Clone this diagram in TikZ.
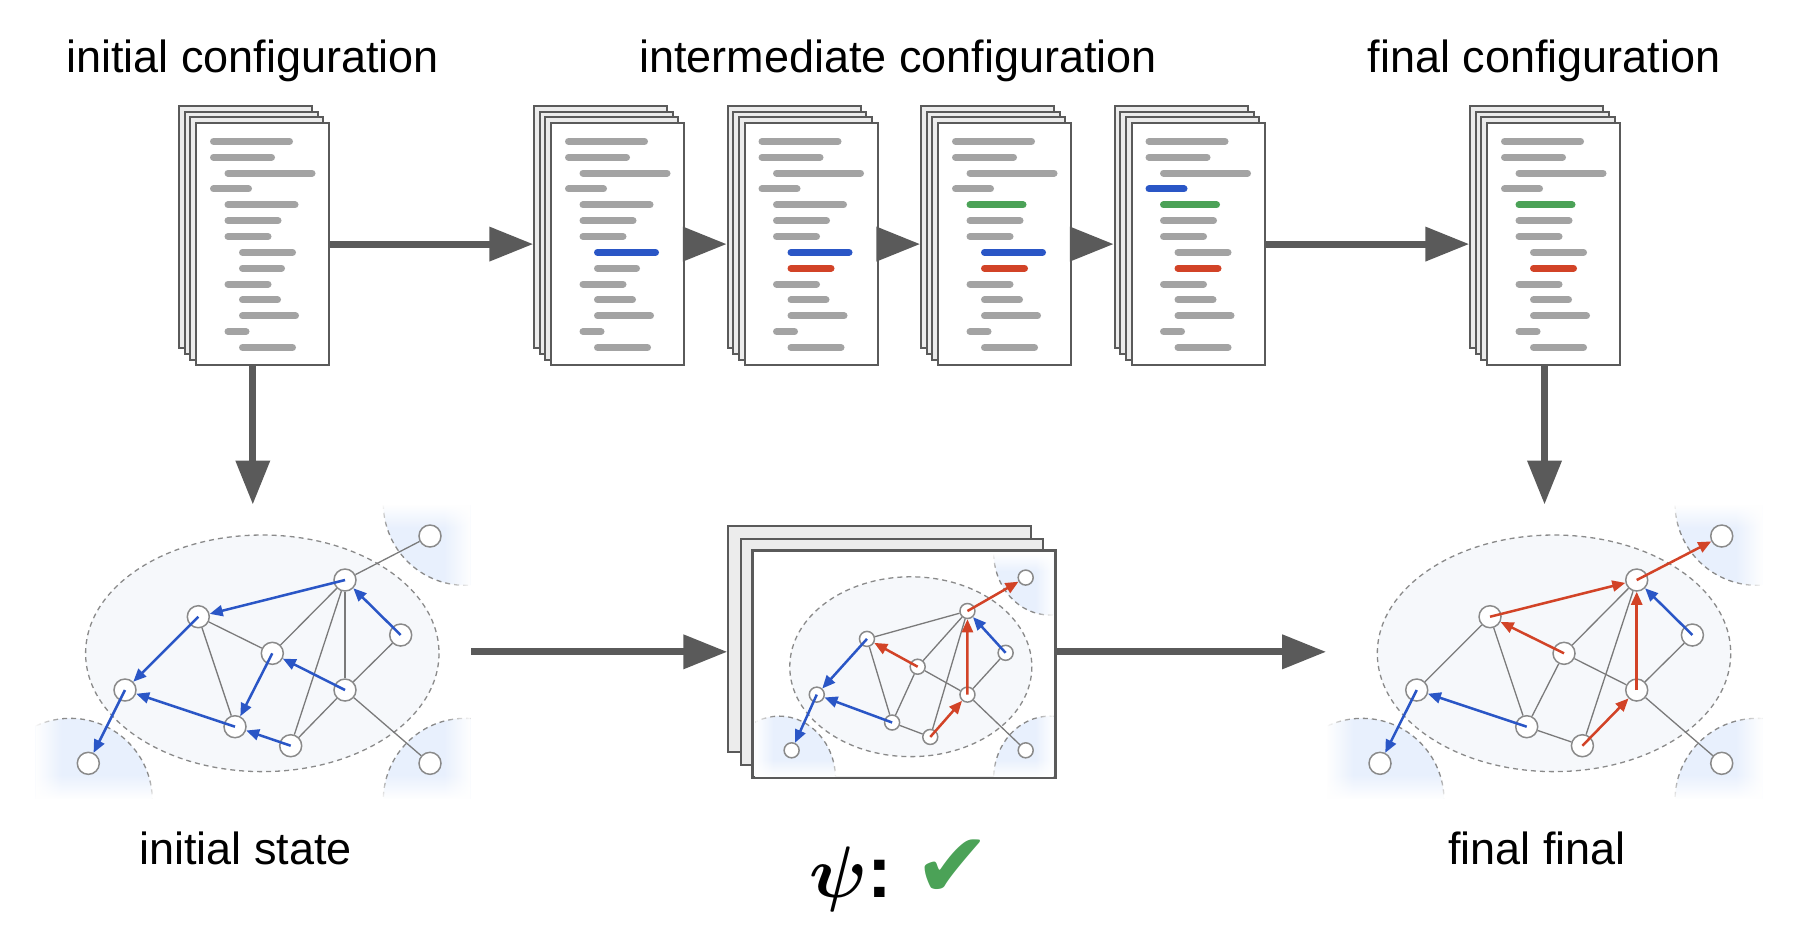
\documentclass[tikz,border=0pt]{standalone}
\usepackage{fontspec}
\setmainfont{Liberation Sans}
\newfontfamily\dejavu{DejaVu Sans}
\usepackage{bm}
\usetikzlibrary{arrows.meta,fadings}

\definecolor{pageedge}{HTML}{5A5A5A}
\definecolor{pageback}{HTML}{ECECEC}
\definecolor{linegray}{HTML}{A3A3A3}
\definecolor{arrowgray}{HTML}{5A5A5A}
\definecolor{cblue}{HTML}{2A56C6}
\definecolor{cred}{HTML}{D24327}
\definecolor{cgreen}{HTML}{4BA257}
\definecolor{ellfill}{HTML}{F6F8FB}
\definecolor{cornerblue}{HTML}{E8F0FD}
\definecolor{dashgray}{HTML}{8A8A8A}
\definecolor{edgegray}{HTML}{7A7A7A}

\tikzfading[name=fadeL, left color=transparent!0, right color=transparent!100]
\tikzfading[name=fadeR, left color=transparent!100, right color=transparent!0]
\tikzfading[name=fadeT, top color=transparent!0, bottom color=transparent!100]
\tikzfading[name=fadeB, top color=transparent!100, bottom color=transparent!0]

\tikzset{
  page/.style={draw=pageedge, line width=0.02cm, minimum width=1.33cm,
    minimum height=2.42cm, inner sep=0pt, anchor=north west},
  card/.style={draw=pageedge, line width=0.02cm, minimum width=3.02cm,
    minimum height=2.26cm, inner sep=0pt},
  panel/.style={minimum width=4.35cm, minimum height=2.93cm, inner sep=0pt},
  codeline/.style={line width=0.07cm, line cap=round},
  bigarrow/.style={draw=arrowgray, line width=0.07cm,
    -{Triangle[length=0.44cm,width=0.33cm]}},
  vertex/.style={circle, draw=dashgray, fill=white, line width=0.015cm, inner sep=0pt},
  link/.style={draw=edgegray, line width=0.013cm},
  bluearc/.style={draw=cblue, line width=0.025cm, -{Triangle[length=0.13cm,width=0.11cm]}},
  redarc/.style={draw=cred, line width=0.025cm, -{Triangle[length=0.13cm,width=0.11cm]}},
  region/.style={draw=dashgray, line width=0.013cm, dash pattern=on 0.05cm off 0.04cm},
  corner/.style={region, fill=cornerblue},
  heading/.style={font=\fontsize{12.8}{15}\selectfont, anchor=base}
}

% stack of pages: name, top left of front page, then lines 4, 5, 8 and 9 as length/colour
\newcommand{\docstack}[7]{%
  \node[page, fill=pageback] (#1b) at (#2-16.7,#3-16.7) {};
  \node[page, fill=pageback] at (#2-11.1,#3-11.1) {};
  \node[page, fill=pageback] at (#2-5.6,#3-5.6) {};
  \node[page, fill=white] (#1) at (#2,#3) {};
  \foreach \lv/\len/\col [count=\i] in {0/83/linegray,0/65/linegray,1/91/linegray,0/#4,
      1/#5,1/57/linegray,1/47/linegray,2/#6,2/#7,1/47/linegray,2/42/linegray,
      2/60/linegray,1/25/linegray,2/57/linegray}
    \draw[codeline,\col] ({#2+18.5+14.5*\lv},{#3+19.4+15.85*(\i-1)}) -- ++(\len-7,0);
}

% region, corner zones and vertices of one graph; #1 prefix, #2 vertex size
\newcommand{\graphpanel}[2]{%
  \fill[ellfill] (0,0) ellipse [x radius=176.7, y radius=118.3];
  \begin{scope}
    \clip (-227,-148) rectangle (208,145);
    \foreach \cx/\cy in {-192/147,203/-150,203/147}
      \draw[corner] (\cx,\cy) circle [radius=82];
    % soft edges of the panel
    \fill[white, path fading=fadeL] (-228,-149) rectangle (-200,146);
    \fill[white, path fading=fadeR] (181,-149) rectangle (209,146);
    \fill[white, path fading=fadeT] (-228,-149) rectangle (209,-125);
    \fill[white, path fading=fadeB] (-228,121) rectangle (209,146);
  \end{scope}
  \draw[region] (0,0) ellipse [x radius=176.7, y radius=118.3];
  \foreach \n/\px/\py in {a/82.7/-73.3,b/-64/-36.6,c/10/0,d/138.4/-18.3,e/82.7/36.7,
      f/-137.3/36.7,g/-27.3/73.4,h/28.4/92.4,tr/167.7/-117.3,bl/-174/110,br/167.7/110}
    \node[vertex, minimum size=#2] (#1\n) at (\px,\py) {};
}

\begin{document}
\begin{tikzpicture}[x=0.01cm, y=-0.01cm]
\useasboundingbox (0,0) rectangle (1816,932);

% configurations
\docstack{d1}{195}{122}{42/linegray}{74/linegray}{57/linegray}{46/linegray}
\docstack{d2}{550}{122}{42/linegray}{74/linegray}{65/cblue}{46/linegray}
\docstack{d3}{743.5}{122}{42/linegray}{74/linegray}{65/cblue}{47/cred}
\docstack{d4}{937}{122}{42/linegray}{60/cgreen}{65/cblue}{47/cred}
\docstack{d5}{1130.5}{122}{42/cblue}{60/cgreen}{57/linegray}{47/cred}
\docstack{d6}{1486}{122}{42/linegray}{60/cgreen}{57/linegray}{47/cred}

\node[heading] (t1) at (252.5,72) {initial configuration};
\node[heading] (t2) at (898,72) {intermediate configuration};
\node[heading] (t3) at (1544,72) {final configuration};

% initial state
\node[panel] (lgraph) at (252.8,651.8) {};
\begin{scope}[shift={(262.3,653.3)}]
  \graphpanel{l}{0.22cm}
  \foreach \u/\v in {a/tr,a/c,a/h,a/e,b/c,b/g,d/e,e/h,e/br}
    \draw[link] (l\u) -- (l\v);
  \foreach \u/\v in {a/b,b/f,f/bl,c/g,e/c,d/a,g/f,h/g}
    \draw[bluearc] (l\u.center) -- (l\v);
\end{scope}

% intermediate states
\node[card, fill=pageback] (mcard3) at (879.4,639.4) {};
\node[card, fill=pageback] (mcard2) at (891.7,651.7) {};
\node[card, fill=white] (mcard) at (904,664) {};
\begin{scope}[shift={(910.8,666.7)}, xscale=0.685, yscale=0.76]
  \graphpanel{m}{0.15cm}
  \foreach \u/\v in {a/b,b/g,c/a,c/g,c/e,a/h,d/e,g/h,e/br}
    \draw[link] (m\u) -- (m\v);
  \foreach \u/\v in {d/a,b/f,f/bl,g/f}
    \draw[bluearc] (m\u.center) -- (m\v);
  \foreach \u/\v in {a/tr,e/a,c/b,h/e}
    \draw[redarc] (m\u.center) -- (m\v);
\end{scope}
\draw[pageedge, line width=0.02cm] (mcard.north west) rectangle (mcard.south east);

% final state
\node[panel] (rgraph) at (1544.5,651.8) {};
\begin{scope}[shift={(1554,653.3)}]
  \graphpanel{r}{0.22cm}
  \foreach \u/\v in {f/b,b/g,c/a,c/g,c/e,a/h,d/e,g/h,e/br}
    \draw[link] (r\u) -- (r\v);
  \foreach \u/\v in {d/a,g/f,f/bl}
    \draw[bluearc] (r\u.center) -- (r\v);
  \foreach \u/\v in {b/a,a/tr,e/a,c/b,h/e}
    \draw[redarc] (r\u.center) -- (r\v);
\end{scope}

\draw[bigarrow] (d1.east) -- (d1.east -| d2b.west);
\draw[bigarrow] (d2.east) -- (d2.east -| d3b.west);
\draw[bigarrow] (d3.east) -- (d3.east -| d4b.west);
\draw[bigarrow] (d4.east) -- (d4.east -| d5b.west);
\draw[bigarrow] (d5.east) -- (d5.east -| d6b.west);
\draw[bigarrow] (d1.south -| lgraph.north) -- (lgraph.north);
\draw[bigarrow] (d6.south -| rgraph.north) -- (rgraph.north);
\draw[bigarrow] (lgraph.east) -- (lgraph.east -| mcard3.west);
\draw[bigarrow] (mcard.east |- rgraph.west) -- (rgraph.west);

\node[heading] (s1) at (245.5,864) {initial state};
\node[heading] (s2) at (1537,864) {final final};
\node[anchor=base west, font=\fontsize{21}{25}\selectfont] (psi) at (797,897)
  {$\bm{\psi}$\textbf{:}\hspace{0.3em}{\dejavu\fontsize{26}{30}\selectfont\color{cgreen}✔}};

\end{tikzpicture}
\end{document}
